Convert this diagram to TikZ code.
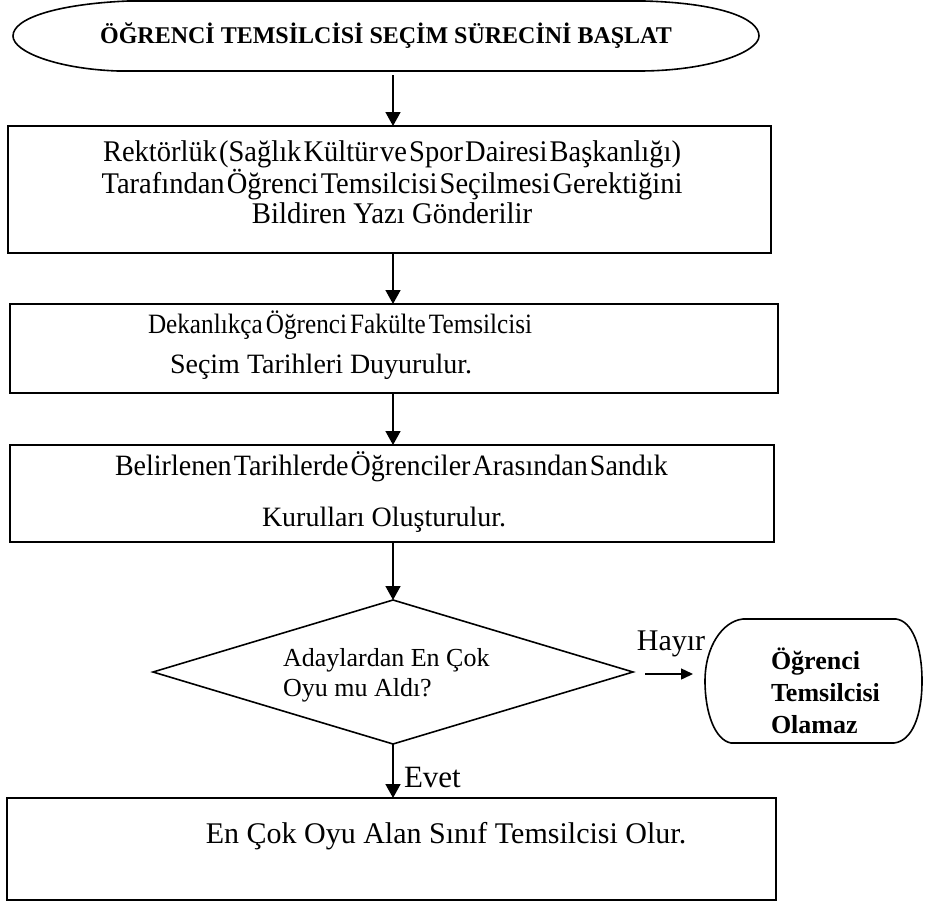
\documentclass[tikz,border=0pt]{standalone}
\usepackage{fontspec}
\setmainfont{Liberation Serif}
\newfontfamily\narrowserif[FakeStretch=0.95,WordSpace=0.3]{Liberation Serif}
\newfontfamily\midserif[FakeStretch=0.96]{Liberation Serif}
\newfontfamily\dekserif[FakeStretch=0.9,WordSpace=0.5]{Liberation Serif}
\usetikzlibrary{shapes.geometric,arrows.meta}

\begin{document}
\begin{tikzpicture}[x=1pt,y=-1pt,
  every node/.style={inner sep=0pt,outer sep=0pt},
  line/.style={line width=1.6pt},
  stepbox/.style={draw,line,rectangle,anchor=north west},
  txt/.style={font=\fontsize{28}{30}\selectfont,align=center},
  arr/.style={line width=1.6pt,-{Triangle[length=14pt,width=15pt]}},
  small arr/.style={line width=1.4pt,-{Triangle[length=12pt,width=11pt]}},
]
\useasboundingbox (0,0) rectangle (936,902);

% start terminator
\node[minimum width=746pt,minimum height=70pt,
      font=\bfseries\fontsize{24}{26}\selectfont] (title) at (386,36) {ÖĞRENCİ TEMSİLCİSİ SEÇİM SÜRECİNİ BAŞLAT};
\draw[line] ([xshift=115pt]title.north west) -- ([xshift=-115pt]title.north east)
  .. controls +(75,2) and +(0,-18) .. (title.east)
  .. controls +(0,16) and +(70,0) .. ([xshift=-120pt]title.south east)
  -- ([xshift=105pt]title.south west)
  .. controls +(-60,-2) and +(0,16) .. (title.west)
  .. controls +(0,-18) and +(-70,3) .. cycle;

% process boxes
\node[stepbox,minimum width=763pt,minimum height=127pt] (b1) at (8,126) {};
\node[stepbox,minimum width=768pt,minimum height=89pt] (b2) at (10,304) {};
\node[stepbox,minimum width=764pt,minimum height=97pt] (b3) at (10,445) {};
\node[stepbox,minimum width=769pt,minimum height=102pt] (b4) at (7,798) {};

% decision
\node[draw,line,diamond,minimum width=480pt,minimum height=144pt] (dec) at (393,672) {};

% end terminator
\node[minimum width=217pt,minimum height=124pt] (noend) at (813.5,681) {};
\draw[line] ([xshift=38pt]noend.north west) -- ([xshift=-26pt]noend.north east)
  .. controls +(16,2) and +(0,-35) .. (noend.east)
  .. controls +(0,35) and +(18,-2) .. ([xshift=-28pt]noend.south east)
  -- ([xshift=26pt]noend.south west)
  .. controls +(-16,-3) and +(0,32) .. (noend.west)
  .. controls +(0,-35) and +(-20,2) .. cycle;

% texts
\node[font=\narrowserif\fontsize{30}{30}\selectfont,align=center] (t1) at (392,182)
  {Rektörlük (Sağlık Kültür ve Spor Dairesi Başkanlığı)\\
   Tarafından Öğrenci Temsilcisi Seçilmesi Gerektiğini\\
   {\midserif Bildiren Yazı Gönderilir}};
\node[font=\dekserif\fontsize{28}{30}\selectfont,anchor=west] (t2a) at (148,325) {Dekanlıkça Öğrenci Fakülte Temsilcisi};
\node[txt,anchor=west] (t2b) at (170,367) {Seçim Tarihleri Duyurulur.};
\node[font=\narrowserif\fontsize{29.5}{30}\selectfont,anchor=west] (t3a) at (115,467) {Belirlenen Tarihlerde Öğrenciler Arasından Sandık};
\node[txt,anchor=west] (t3b) at (262,520) {Kurulları Oluşturulur.};
\node[font=\fontsize{30}{30}\selectfont] (t4) at (446,836) {En Çok Oyu Alan Sınıf Temsilcisi Olur.};
\node[font=\fontsize{26}{30}\selectfont,align=left,anchor=west] (qtxt) at (283,675)
  {Adaylardan En Çok\\Oyu mu Aldı?};
\node[font=\bfseries\fontsize{26}{32}\selectfont,align=left,anchor=west] (etxt) at (771,691)
  {Öğrenci\\Temsilcisi\\Olamaz};

% connectors
\draw[arr] ([yshift=-4pt]title.south -| dec.north) -- (b1.north -| dec.north);
\draw[arr] (b1.south -| dec.north) -- (b2.north -| dec.north);
\draw[arr] (b2.south -| dec.north) -- (b3.north -| dec.north);
\draw[arr] (b3.south -| dec.north) -- (dec.north);
\draw[arr] (dec.south) -- (b4.north -| dec.south);
\node[font=\fontsize{31}{30}\selectfont,anchor=west] (evet) at (404,777) {Evet};
\draw[small arr] ([xshift=12pt,yshift=-2pt]dec.east) -- ([xshift=-12pt,yshift=-2pt]dec.east -| noend.west);
\node[font=\fontsize{30}{30}\selectfont] (hayir) at (671,644) {Hayır};
\end{tikzpicture}
\end{document}
